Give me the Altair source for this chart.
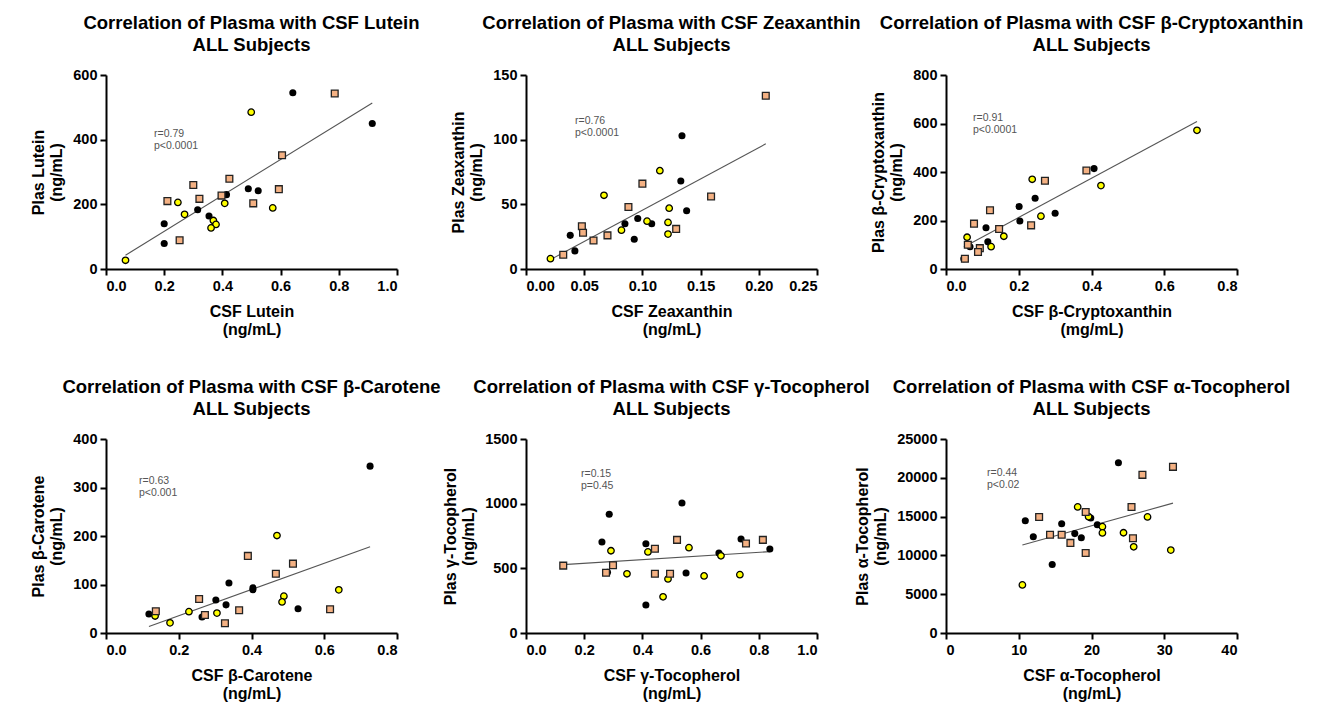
import altair as alt
import pandas as pd

# ---------------- data ----------------
# Panel 1: Lutein
LUT_BLACK_X = [0.642, 0.915, 0.489, 0.523, 0.414, 0.315, 0.354, 0.200, 0.200]
LUT_BLACK_Y = [545, 450, 248, 242, 230, 183, 164, 140, 79]
LUT_YELLOW_X = [0.499, 0.067, 0.247, 0.270, 0.408, 0.573, 0.369, 0.378, 0.361]
LUT_YELLOW_Y = [485, 27, 206, 169, 203, 189, 150, 138, 127]
LUT_SQUARE_X = [0.786, 0.605, 0.424, 0.300, 0.211, 0.321, 0.397, 0.594, 0.506, 0.253]
LUT_SQUARE_Y = [543, 352, 279, 260, 210, 217, 227, 247, 203, 89]

# Panel 2: Zeaxanthin
ZEA_BLACK_X = [0.134, 0.133, 0.138, 0.096, 0.108, 0.085, 0.093, 0.038, 0.042]
ZEA_BLACK_Y = [103, 68, 45, 39, 35, 35, 23, 26, 14]
ZEA_YELLOW_X = [0.115, 0.067, 0.123, 0.104, 0.122, 0.082, 0.122, 0.021]
ZEA_YELLOW_Y = [76, 57, 47, 37, 36, 30, 27, 8]
ZEA_SQUARE_X = [0.206, 0.100, 0.159, 0.088, 0.129, 0.048, 0.049, 0.070, 0.058, 0.032]
ZEA_SQUARE_Y = [134, 66, 56, 48, 31, 33, 28, 26, 22, 11]

# Panel 3: beta-Cryptoxanthin
CRY_BLACK_X = [0.407, 0.245, 0.201, 0.300, 0.203, 0.110, 0.115, 0.066, 0.049]
CRY_BLACK_Y = [414, 292, 258, 230, 198, 170, 112, 92, 42]
CRY_YELLOW_X = [0.690, 0.237, 0.426, 0.261, 0.159, 0.058, 0.124]
CRY_YELLOW_Y = [572, 370, 344, 218, 135, 131, 92]
CRY_SQUARE_X = [0.386, 0.272, 0.121, 0.077, 0.146, 0.234, 0.060, 0.093, 0.088, 0.052]
CRY_SQUARE_Y = [406, 364, 242, 187, 165, 180, 100, 86, 70, 42]

# Panel 4: beta-Carotene
CAR_BLACK_X = [0.726, 0.338, 0.404, 0.404, 0.302, 0.330, 0.528, 0.264, 0.118]
CAR_BLACK_Y = [344, 103, 93, 89, 68, 58, 50, 33, 39]
CAR_YELLOW_X = [0.470, 0.640, 0.489, 0.484, 0.228, 0.305, 0.176, 0.135]
CAR_YELLOW_Y = [201, 89, 76, 64, 44, 41, 21, 35]
CAR_SQUARE_X = [0.390, 0.514, 0.467, 0.256, 0.366, 0.272, 0.327, 0.137, 0.616]
CAR_SQUARE_Y = [159, 143, 122, 70, 47, 37, 20, 45, 49]

# Panel 5: gamma-Tocopherol
GTO_BLACK_X = [0.536, 0.286, 0.261, 0.412, 0.739, 0.663, 0.838, 0.550, 0.412, 0.280]
GTO_BLACK_Y = [1005, 918, 704, 690, 727, 619, 650, 464, 216, 470]
GTO_YELLOW_X = [0.292, 0.419, 0.560, 0.670, 0.347, 0.488, 0.612, 0.735, 0.471]
GTO_YELLOW_Y = [636, 627, 660, 597, 458, 418, 441, 451, 280]
GTO_SQUARE_X = [0.128, 0.519, 0.443, 0.756, 0.814, 0.275, 0.299, 0.443, 0.495]
GTO_SQUARE_Y = [521, 720, 651, 692, 720, 466, 524, 458, 458]

# Panel 6: alpha-Tocopherol
ATO_BLACK_X = [23.7, 10.9, 12.0, 15.9, 17.7, 18.6, 20.8, 19.9, 14.6]
ATO_BLACK_Y = [21930, 14460, 12400, 14080, 12810, 12270, 13950, 14820, 8820]
ATO_YELLOW_X = [18.1, 19.6, 21.5, 21.5, 24.4, 27.7, 25.8, 30.9, 10.5]
ATO_YELLOW_Y = [16250, 14980, 13700, 12900, 12920, 14960, 11110, 10680, 6200]
ATO_SQUARE_X = [31.2, 27.0, 25.5, 19.2, 12.8, 14.3, 15.9, 17.1, 25.7, 19.2]
ATO_SQUARE_Y = [21410, 20380, 16230, 15590, 14940, 12660, 12660, 11610, 12210, 10320]

NUTRIENTS = ["Lutein", "Zeaxanthin", "β-Cryptoxanthin", "β-Carotene", "γ-Tocopherol", "α-Tocopherol"]
X_UNITS = ["(ng/mL)", "(ng/mL)", "(mg/mL)", "(ng/mL)", "(ng/mL)", "(ng/mL)"]
STATS = [["r=0.79", "p<0.0001"], ["r=0.76", "p<0.0001"], ["r=0.91", "p<0.0001"],
         ["r=0.63", "p<0.001"], ["r=0.15", "p=0.45"], ["r=0.44", "p<0.02"]]
X_MAX = [1.0, 0.25, 0.8, 0.8, 1.0, 40]
X_TICKS = [[0, 0.2, 0.4, 0.6, 0.8, 1.0], [0, 0.05, 0.10, 0.15, 0.20, 0.25],
           [0, 0.2, 0.4, 0.6, 0.8], [0, 0.2, 0.4, 0.6, 0.8],
           [0, 0.2, 0.4, 0.6, 0.8, 1.0], [0, 10, 20, 30, 40]]
X_FMT = [".1f", ".2f", ".1f", ".1f", ".1f", "d"]
Y_MAX = [600, 150, 800, 400, 1500, 25000]
Y_TICKS = [[0, 200, 400, 600], [0, 50, 100, 150], [0, 200, 400, 600, 800],
           [0, 100, 200, 300, 400], [0, 500, 1000, 1500],
           [0, 5000, 10000, 15000, 20000, 25000]]

SERIES = [
    (LUT_BLACK_X, LUT_BLACK_Y, LUT_YELLOW_X, LUT_YELLOW_Y, LUT_SQUARE_X, LUT_SQUARE_Y),
    (ZEA_BLACK_X, ZEA_BLACK_Y, ZEA_YELLOW_X, ZEA_YELLOW_Y, ZEA_SQUARE_X, ZEA_SQUARE_Y),
    (CRY_BLACK_X, CRY_BLACK_Y, CRY_YELLOW_X, CRY_YELLOW_Y, CRY_SQUARE_X, CRY_SQUARE_Y),
    (CAR_BLACK_X, CAR_BLACK_Y, CAR_YELLOW_X, CAR_YELLOW_Y, CAR_SQUARE_X, CAR_SQUARE_Y),
    (GTO_BLACK_X, GTO_BLACK_Y, GTO_YELLOW_X, GTO_YELLOW_Y, GTO_SQUARE_X, GTO_SQUARE_Y),
    (ATO_BLACK_X, ATO_BLACK_Y, ATO_YELLOW_X, ATO_YELLOW_Y, ATO_SQUARE_X, ATO_SQUARE_Y),
]

# annotation placement (pixels inside plot area) – styling only
ANNOT_POS = [(48, 59), (49, 46), (27, 43), (33, 42), (55, 35), (41, 34)]

FONT = "Liberation Sans"
W, H = 291, 194


def panel(i):
    bx, by, yx, yy, sx, sy = SERIES[i]
    df = pd.concat([
        pd.DataFrame({"x": bx, "y": by, "group": "A"}),
        pd.DataFrame({"x": yx, "y": yy, "group": "B"}),
        pd.DataFrame({"x": sx, "y": sy, "group": "C"}),
    ], ignore_index=True)
    name = NUTRIENTS[i]
    xenc = alt.X("x:Q", scale=alt.Scale(domain=[0, X_MAX[i]], nice=False),
                 axis=alt.Axis(values=X_TICKS[i], format=X_FMT[i],
                               title=["CSF " + name, X_UNITS[i]]))
    yenc = alt.Y("y:Q", scale=alt.Scale(domain=[0, Y_MAX[i]], nice=False),
                 axis=alt.Axis(values=Y_TICKS[i], format="d",
                               title=["Plas " + name, "(ng/mL)"]))
    base = alt.Chart(df).encode(x=xenc, y=yenc)
    line = base.transform_regression("x", "y").mark_line(color="#555555", strokeWidth=1.1)
    black = base.transform_filter(alt.datum.group == "A").mark_circle(
        size=50, color="black", opacity=1)
    yellow = base.transform_filter(alt.datum.group == "B").mark_point(
        shape="circle", size=42, filled=True, fill="#FFFF00", stroke="black",
        strokeWidth=1.3, opacity=1)
    square = base.transform_filter(alt.datum.group == "C").mark_point(
        shape="square", size=46, filled=True, fill="#F4B183", stroke="#222222",
        strokeWidth=1.3, opacity=1)
    px, py = ANNOT_POS[i]
    ann = alt.Chart(pd.DataFrame({"t": [STATS[i]]})).mark_text(
        align="left", baseline="middle", font=FONT, fontSize=10.5,
        color="#555555", lineHeight=12
    ).encode(text="t", x=alt.value(px), y=alt.value(py))
    return alt.layer(line, black, yellow, square, ann).properties(
        width=W, height=H,
        title=alt.TitleParams(["Correlation of Plasma with CSF " + name, "ALL Subjects"],
                              frame="group", anchor="middle"),
    )


chart = alt.concat(*[panel(i) for i in range(6)], columns=3,
                   spacing={"row": 170, "column": 129}, bounds="flush").properties(
    padding={"left": 22, "top": 5, "right": 5, "bottom": 2}
).configure_view(stroke=None).configure_axis(
    grid=False, domainColor="black", domainWidth=2, tickColor="black", tickWidth=2,
    tickSize=6, labelFont=FONT, labelFontWeight="bold", labelFontSize=14.5,
    labelColor="black", labelPadding=3, titleFont=FONT, titleFontWeight="bold",
    titleFontSize=16, titleColor="black", titleLineHeight=18, titlePadding=8,
).configure_axisX(titlePadding=11, labelPadding=4).configure_title(
    font=FONT, fontSize=18.5, fontWeight="bold", color="black", lineHeight=22, offset=13
)

chart.save("out.html", embed_options={"renderer": "svg", "actions": False})
